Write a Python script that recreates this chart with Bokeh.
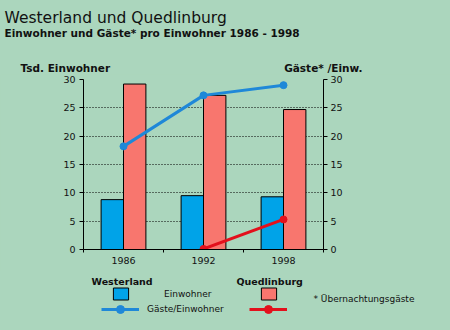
from bokeh.plotting import figure
from bokeh.models import (Range1d, LinearAxis, FixedTicker, Label, Legend, LegendItem,
                          ColumnDataSource)
from bokeh.layouts import column
from bokeh.transform import dodge
from bokeh.embed import file_html
from bokeh.resources import INLINE

# ---- data ----
years = ["1986", "1992", "1998"]
einw_westerland = [8.8, 9.5, 9.3]          # Tsd. Einwohner
einw_quedlinburg = [29.2, 27.2, 24.7]      # Tsd. Einwohner
gaeste_westerland = [18.2, 27.2, 29.0]     # Gäste* / Einw.
gaeste_quedlinburg = [float("nan"), 0.1, 5.3]
y_ticks = [0, 5, 10, 15, 20, 25, 30]

BG = "#abd6bd"
BLUE_BAR = "#00a3e8"
RED_BAR = "#f8766e"
BLUE_LINE = "#1f88d8"
RED_LINE = "#e3101c"
TXT = "#111111"
FONT = "DejaVu Sans"

W = 450
TOP_H, MAIN_H, LEG_H = 74, 196, 60      # stacked: 74 + 196 + 60 = 330
FL, FR = 83, 323                        # frame left / right (px)
FT, FB = 79, 249                        # frame top / bottom (page px)


def blank(height):
    f = figure(width=W, height=height, x_range=Range1d(0, W), y_range=Range1d(0, height),
               output_backend="svg", toolbar_location=None, x_axis_location=None,
               y_axis_location=None, min_border=0)
    f.min_border_left = f.min_border_right = f.min_border_top = f.min_border_bottom = 0
    f.frame_align = False
    f.background_fill_color = BG
    f.border_fill_color = BG
    f.outline_line_color = None
    f.grid.grid_line_color = None
    return f


def lab(f, top, cx, cy, text, size, bold=False, align="left", baseline="alphabetic"):
    # cx, cy: page pixel position; top: page y of the figure's top edge
    f.add_layout(Label(x=cx, y=top + f.height - cy, x_units="screen", y_units="screen",
                       text=text, text_font=FONT, text_font_size=size, text_color=TXT,
                       text_font_style="bold" if bold else "normal",
                       text_align=align, text_baseline=baseline))


# ---------------- header ----------------
head = blank(TOP_H)
lab(head, 0, 4, 17, "Westerland und Quedlinburg", "15.5px")
lab(head, 0, 4, 32, "Einwohner und Gäste* pro Einwohner 1986 - 1998", "10.5px", bold=True)
lab(head, 0, 20, 67, "Tsd. Einwohner", "10.5px", bold=True)
lab(head, 0, 362, 67, "Gäste* /Einw.", "10.5px", bold=True, align="right")

# ---------------- main chart ----------------
xpos = [i + 0.5 for i in range(len(years))]   # each year one unit wide
src = ColumnDataSource(dict(x=xpos, year=years, w=einw_westerland, q=einw_quedlinburg,
                            gw=gaeste_westerland, gq=gaeste_quedlinburg))

p = figure(width=W, height=MAIN_H, x_range=Range1d(0, len(years)),
           y_range=Range1d(0, 30), output_backend="svg", toolbar_location=None,
           x_axis_location=None, y_axis_location=None,
           min_border_left=FL, min_border_right=W - FR, min_border_top=FT - TOP_H,
           min_border_bottom=TOP_H + MAIN_H - FB)
p.frame_align = False
p.background_fill_color = BG
p.border_fill_color = BG
p.outline_line_color = None
p.xgrid.grid_line_color = None
p.ygrid.grid_line_color = "black"
p.ygrid.grid_line_dash = "1 2"
p.ygrid.ticker = FixedTicker(ticks=y_ticks)

p.extra_y_ranges = {"right": Range1d(0, 30)}

BAR_W = dict(width=0.28, line_color="black", line_width=1)
LINE_W = dict(line_width=3)
bw = p.vbar(x=dodge("x", -0.14), top="w", source=src, fill_color=BLUE_BAR, **BAR_W)
bq = p.vbar(x=dodge("x", 0.14), top="q", source=src, fill_color=RED_BAR, **BAR_W)
p.line(x="x", y="gw", source=src, y_range_name="right", line_color=BLUE_LINE, **LINE_W)
p.scatter(x="x", y="gw", source=src, y_range_name="right", size=7,
          fill_color=BLUE_LINE, line_color=BLUE_LINE)
p.line(x="x", y="gq", source=src, y_range_name="right", line_color=RED_LINE, **LINE_W)
p.scatter(x="x", y="gq", source=src, y_range_name="right", size=7,
          fill_color=RED_LINE, line_color=RED_LINE)


def style_axis(ax):
    ax.axis_line_color = "black"
    ax.axis_line_width = 1
    ax.major_tick_line_color = "black"
    ax.major_tick_in = 0
    ax.major_tick_out = 4
    ax.minor_tick_line_color = None
    ax.major_label_text_font = FONT
    ax.major_label_text_font_size = "9.5px"
    ax.major_label_text_color = TXT
    ax.major_label_standoff = 3


yl = LinearAxis(ticker=FixedTicker(ticks=y_ticks))
style_axis(yl)
yl.major_label_standoff = 4
p.add_layout(yl, "left")
yr = LinearAxis(y_range_name="right", ticker=FixedTicker(ticks=y_ticks))
style_axis(yr)
p.add_layout(yr, "right")

bounds = [float(i) for i in range(len(years) + 1)]
xb = LinearAxis(ticker=FixedTicker(ticks=xpos, minor_ticks=bounds),
                major_label_overrides={c: y for c, y in zip(xpos, years)})
style_axis(xb)
xb.major_tick_line_color = None
xb.major_tick_out = 3
xb.minor_tick_line_color = "black"
xb.minor_tick_in = 0
xb.minor_tick_out = 3
xb.major_label_standoff = 4
p.add_layout(xb, "below")

# ---------------- key ----------------
LEG_TOP = TOP_H + MAIN_H
key = blank(LEG_H)
lab(key, LEG_TOP, 91, 281, "Westerland", "9.5px", bold=True)
lab(key, LEG_TOP, 236, 281, "Quedlinburg", "9.5px", bold=True)
lab(key, LEG_TOP, 313, 298, "* Übernachtungsgäste", "9px", baseline="middle")

# hidden twins of the chart's renderers, only used to draw the key swatches
k_bw = key.vbar(x="x", top="w", source=src, fill_color=BLUE_BAR, visible=False, **BAR_W)
k_bq = key.vbar(x="x", top="q", source=src, fill_color=RED_BAR, visible=False, **BAR_W)
k_lw = key.line(x="x", y="gw", source=src, line_color=BLUE_LINE, visible=False, **LINE_W)
k_sw = key.scatter(x="x", y="gw", source=src, size=8, fill_color=BLUE_LINE,
                   line_color=BLUE_LINE, visible=False)
k_lq = key.line(x="x", y="gq", source=src, line_color=RED_LINE, visible=False, **LINE_W)
k_sq = key.scatter(x="x", y="gq", source=src, size=8, fill_color=RED_LINE,
                   line_color=RED_LINE, visible=False)


def leg(renderers, label, cx, cy_bottom, gw, gh, standoff):
    lg = Legend(items=[LegendItem(label=label, renderers=renderers)],
                location=(cx, LEG_TOP + LEG_H - cy_bottom), glyph_width=gw, glyph_height=gh,
                label_standoff=standoff, label_height=gh, label_width=10, padding=0, margin=0,
                spacing=0, border_line_color=None, background_fill_alpha=0,
                label_text_font=FONT, label_text_font_size="9px", label_text_color=TXT)
    key.add_layout(lg)


leg([k_bw], "Einwohner", 111, 301, 19, 15, 34)
leg([k_lw, k_sw], "Gäste/Einwohner", 101, 319, 38, 20, 8)
leg([k_bq], " ", 259, 301, 19, 15, 10)
leg([k_lq, k_sq], " ", 249, 319, 38, 20, 8)

page = column(head, p, key, spacing=0, styles={"background-color": BG})
open("out.html", "w").write(file_html(page, INLINE))
